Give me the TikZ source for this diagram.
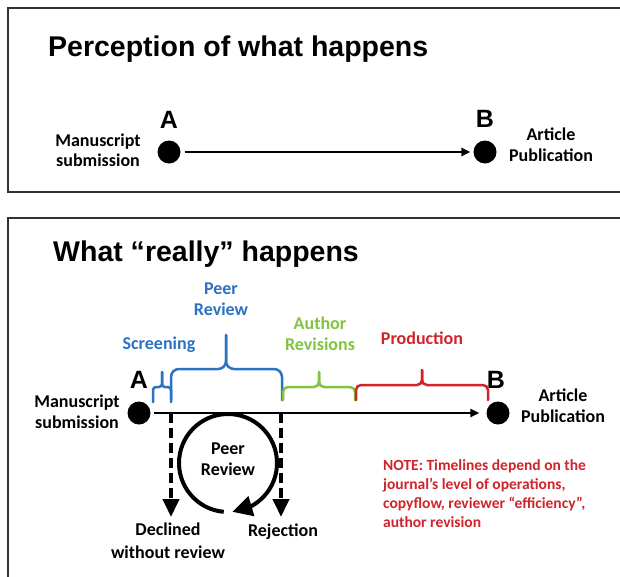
\documentclass[tikz,border=0pt]{standalone}
\usepackage{fontspec}
\setmainfont{Carlito}
\newfontfamily\arialf{Liberation Sans}
\usetikzlibrary{arrows.meta,bending}
\definecolor{cblue}{RGB}{44,114,196}
\definecolor{cgreen}{RGB}{128,196,64}
\definecolor{cred}{RGB}{208,36,44}
\definecolor{frame}{RGB}{50,50,50}
\begin{document}
\begin{tikzpicture}[x=1pt,y=-1pt,
  lbl/.style={font=\bfseries\fontsize{18}{21}\selectfont, align=center, inner sep=0pt},
  ttl/.style={font=\arialf\bfseries\fontsize{28.5}{30}\selectfont, anchor=base west, inner sep=0pt},
  letter/.style={font=\arialf\bfseries\fontsize{25}{27}\selectfont, inner sep=0pt},
  dot/.style={circle, fill=black, minimum size=23pt, inner sep=0pt},
  mainarrow/.style={line width=2.7pt, -{Triangle[length=9pt,width=8pt]}},
  frm/.style={draw=frame, line width=1.5pt},
  brace/.style={line width=2.5pt, rounded corners=#1, line cap=round},
  brace/.default=5pt,
  dashline/.style={line width=4pt, dash pattern=on 10pt off 5pt, -{Triangle[length=18pt,width=16pt]}},
]
\useasboundingbox (0,0) rectangle (620,576);
\fill[white] (0,0) rectangle (620,576);
\draw[frm] (8,8) rectangle (640,192);
\draw[frm] (8,218) rectangle (640,600);

% ---------- top panel ----------
\node[ttl] (t1) at (48,56) {Perception of what happens};
\node[dot] (a1) at (169,152) {};
\node[dot] (b1) at (485,152) {};
\node[letter] (la1) at (169,120) {A};
\node[letter] (lb1) at (485,119) {B};
\node[lbl, font=\bfseries\fontsize{18}{20}\selectfont] (ms1) at (98,150) {Manuscript\\submission};
\node[lbl] (ap1) at (551,145) {Article\\Publication};
\draw[mainarrow, shorten <=4pt, shorten >=3pt] (a1) -- (b1);

% ---------- bottom panel ----------
\node[ttl] (t2) at (53,261) {What “really” happens};
\node[dot] (a2) at (139,413) {};
\node[dot] (b2) at (498,413) {};
\node[letter] (la2) at (139,380) {A};
\node[letter] (lb2) at (496,380) {B};
\node[lbl] (ms2) at (77,411.5) {Manuscript\\submission};
\node[lbl] (ap2) at (563,405.5) {Article\\Publication};
\draw[mainarrow, shorten <=3pt, shorten >=7pt] (a2) -- (b2);

% braces
\draw[brace=3pt, cblue] (153,402) -- (153,387) -- (162,387) -- (162,372);
\draw[brace=3pt, cblue] (171,402) -- (171,387) -- (162,387) -- (162,372);
\draw[brace=8pt, cblue] (171,400) -- (171,369) -- (226,369) -- (226,335);
\draw[brace=8pt, cblue] (282,400) -- (282,369) -- (226,369) -- (226,335);
\draw[brace, cgreen] (283,400) -- (283,387) -- (319,387) -- (319,372);
\draw[brace, cgreen] (355,400) -- (355,387) -- (319,387) -- (319,372);
\draw[brace, cred] (356,400) -- (356,385) -- (422,385) -- (422,370);
\draw[brace, cred] (488,400) -- (488,385) -- (422,385) -- (422,370);

\node[lbl, text=cblue] (scr) at (159,345) {Screening};
\node[lbl, text=cblue] (pr) at (221,299) {Peer\\Review};
\node[lbl, text=cgreen] (ar) at (320,334) {Author\\Revisions};
\node[lbl, text=cred] (prod) at (422,338) {Production};

% peer review loop
\coordinate (cc) at (228,463);
\draw[line width=4pt, -{Triangle[length=20pt,width=20pt]}] (cc) ++(95:49) arc[start angle=95, end angle=445, radius=49];
\node[lbl] (prc) at (228,459) {Peer\\Review};

% dashed exits
\coordinate (d1s) at (171,413);
\coordinate (d1e) at (171,517);
\coordinate (d2s) at (281,413);
\coordinate (d2e) at (281,517);
\draw[dashline] (d1s) -- (d1e);
\draw[dashline] (d2s) -- (d2e);
\node[lbl, font=\bfseries\fontsize{18}{23}\selectfont] (dec) at (168,540.5) {Declined\\without review};
\node[lbl] (rej) at (283,532) {Rejection};

% note
\node[lbl, text=cred, align=left, anchor=west, font=\bfseries\fontsize{15.5}{19}\selectfont] (note) at (383,493.5)
  {NOTE: Timelines depend on the\\journal’s level of operations,\\copyflow, reviewer “efficiency”,\\author revision};
\end{tikzpicture}
\end{document}
